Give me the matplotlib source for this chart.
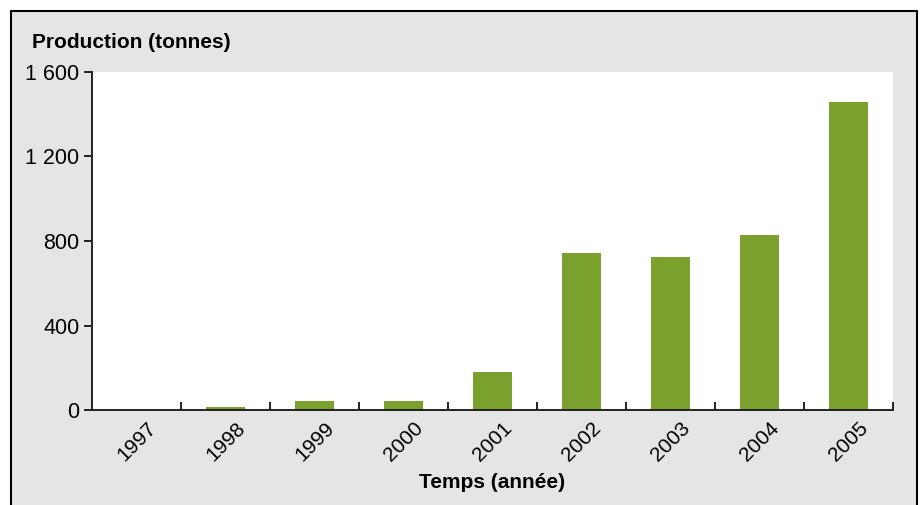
import matplotlib.pyplot as plt
from matplotlib.patches import Rectangle

plt.rcParams['font.family'] = ['Liberation Sans', 'DejaVu Sans']

# production per year
years = ['1997', '1998', '1999', '2000', '2001', '2002', '2003', '2004', '2005']
production = [0, 12, 43, 43, 180, 745, 722, 830, 1460]
yticks = [0, 400, 800, 1200, 1600]
ytick_labels = ['0', '400', '800', '1 200', '1 600']

W, H = 922, 505
fig = plt.figure(figsize=(W / 100, H / 100), dpi=100, facecolor='white')

# grey panel with black frame (bottom edge runs off the picture)
panel = Rectangle((11 / W, -0.05), (917 - 11) / W, (H - 11) / H + 0.05,
                  transform=fig.transFigure, facecolor='#e4e5e4',
                  edgecolor='black', linewidth=1.5, zorder=-10)
fig.patches.append(panel)

ax = fig.add_axes([92 / W, (H - 410) / H, (893 - 92) / W, (410 - 72) / H])
ax.set_facecolor('white')

x = list(range(len(years)))
ax.bar(x, production, width=0.44, color='#7aa12e', zorder=2)

ax.set_xlim(-0.5, len(years) - 0.5)
ax.set_ylim(0, 1600)

for side in ['top', 'right']:
    ax.spines[side].set_visible(False)
for side in ['left', 'bottom']:
    ax.spines[side].set_linewidth(1.4)
    ax.spines[side].set_color('#222222')

# ticks between categories, labels centred under the bars
ax.set_xticks([i + 0.5 for i in x])
ax.set_xticklabels([])
ax.tick_params(axis='x', which='major', direction='in', length=6, width=1.4, color='#222222')
ax.set_xticks(x, minor=True)
ax.set_xticklabels(years, minor=True, rotation=45, ha='center', va='top', fontsize=15)
ax.tick_params(axis='x', which='minor', length=0, pad=6)

ax.set_yticks(yticks)
ax.set_yticklabels(ytick_labels, fontsize=15.5)
ax.tick_params(axis='y', direction='out', length=6, width=1.4, color='#222222', pad=3)

fig.text(32 / W, 1 - 42 / H, 'Production (tonnes)', fontsize=15, fontweight='bold',
         ha='left', va='center')
ax.set_xlabel('Temps (année)', fontsize=15, fontweight='bold', labelpad=6)

fig.savefig('out.png', dpi=100, facecolor=fig.get_facecolor())
